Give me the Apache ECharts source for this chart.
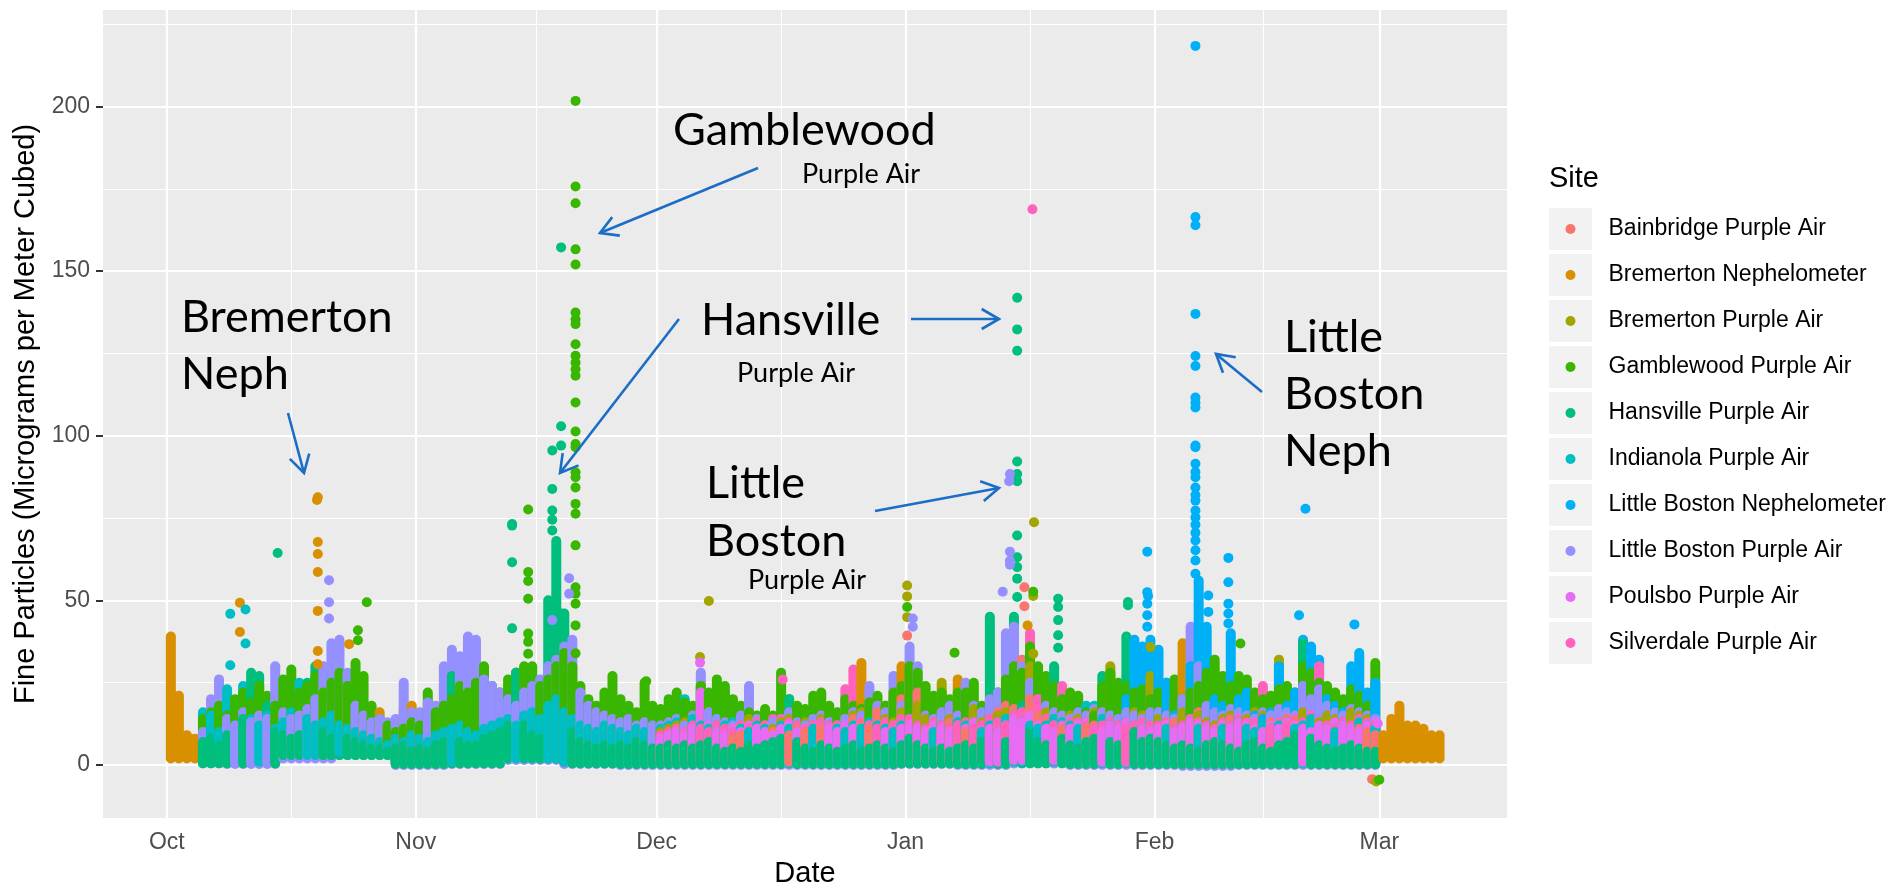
<!DOCTYPE html>
<html>
<head>
<meta charset="utf-8">
<title>Fine Particles by Site</title>
<script src="https://cdn.jsdelivr.net/npm/echarts@6.0.0/dist/echarts.min.js"></script>
<style>
html, body { margin: 0; padding: 0; background: #ffffff; }
#chart { width: 1895px; height: 890px; }
</style>
</head>
<body>
<div id="chart"></div>
<script>
// ---------------- categories, ticks ----------------
const sites = ['Bainbridge Purple Air', 'Bremerton Nephelometer', 'Bremerton Purple Air',
  'Gamblewood Purple Air', 'Hansville Purple Air', 'Indianola Purple Air',
  'Little Boston Nephelometer', 'Little Boston Purple Air', 'Poulsbo Purple Air', 'Silverdale Purple Air'];
const firstDay = '2018-10-01';
const monthTicks = ['2018-10-01', '2018-11-01', '2018-12-01', '2019-01-01', '2019-02-01', '2019-03-01'];
const monthLabels = ['Oct', 'Nov', 'Dec', 'Jan', 'Feb', 'Mar'];
const minorTickDays = [15.5, 46, 76.5, 107.5, 136.5];
const yTicks = [0, 50, 100, 150, 200];
const yMinorTicks = [25, 75, 125, 175, 225];
const xRangeDays = [-7.95, 166.9];
const yRange = [-16.1, 229.3];

// ---------------- daily highs (index 0 = start day; day 0 = Oct 1) ----------------
const startBremertonNeph = 0;
const hiBremertonNeph = [
  39,21,9,8,10, 9,10,12,14,17, 13,12,14,12,11, 13,15,18,26,22, 18,16,20,15,13, 14,16,12,10,17, 18,
  12,8,7,9,10, 12,14,16,13,15, 18,20,28,29,22, 12,15,20,22,18, 12,10,8,9,11, 10,8,9,10,8,
  10,9,8,11,12, 10,9,8,10,12, 11,9,8,10,12, 14,12,10,9,11, 13,12,10,11,14, 31,20,16,18,20, 30,
  24,16,12,10,13, 15,26,14,11,9, 10,12,14,16,18, 22,15,12,10,12, 10,9,11,13,12, 10,14,12,10,11, 12,
  10,12,20,37,38, 30,18,12,14,16, 12,10,9,11,13, 12,10,11,13,12, 10,14,12,11,14, 20,12,10,
  9,14,18,12,12,11,9,9
];
const loBremertonNeph = [2,2,4,5,2, 2,4,2,2,2, 2,2,2,2,2, 3,2,2,2,2, 2,2,2];
const peaksBremertonNeph = [[9.1,49.3],[9.1,40.4],[18.8,81.3],[18.7,80.5],[18.8,67.7],[18.8,64.1],
  [18.8,58.6],[18.8,46.8],[18.8,34.6],[18.8,30.6],[22.7,36.7],[107.2,42.4]];

const startGamblewood = 4;
const hiGamblewood = [
  14,16,18,15,20, 22,19,24,21,18, 26,29,22,24,27, 22,25,28,24,31, 27,18,14,12,10, 11,13,
  12,22,16,18,20, 24,22,25,30,24, 22,26,28,30,30, 24,26,30,34,30, 24,20,18,22,27, 20,18,16,25,18,
  17,20,22,19,18, 24,22,26,24,20, 18,16,15,17,15, 28,20,18,17,21, 22,18,16,20,18, 17,19,21,18,22, 24,
  30,28,24,21,22, 20,22,22,25,18, 20,22,26,30,28, 36,30,27,24,20, 22,21,16,15,24, 28,25,24,22,23, 20,
  22,25,26,20,22, 24,28,32,27,24, 27,26,22,20,21, 23,24,22,30,28, 25,24,22,20,23, 21,18,31
];
const loGamblewood = [1,1,3,4,1, 1,2,1,1,1, 1,1,1,1,1, 2,1,1,1,1, 1,1];
const peaksGamblewood = [[23.8,40.9],[23.8,37.9],[24.9,49.4],[45.0,77.6],[45.0,58.6],[45.0,55.9],[45.0,50.5],
  [45.0,39.9],[45.0,37.4],[45.0,33.8],[50.9,201.7],[50.9,175.7],[50.9,170.6],[50.9,156.6],[50.9,152.0],
  [50.9,137.4],[50.9,135.4],[50.9,133.9],[50.9,127.8],[50.9,124.3],[50.9,122.2],[50.9,120.2],[50.9,118.2],
  [50.9,110.1],[50.9,101.3],[50.9,97.5],[50.9,96.5],[50.9,88.9],[50.9,87.4],[50.9,84.3],[50.9,79.3],
  [50.9,76.3],[50.9,66.7],[50.9,54.0],[50.9,52.0],[50.9,49.0],[50.9,42.4],[50.9,33.9],[59.7,25.4],
  [92.2,48.0],[98.1,34.1],[107.9,52.6],[133.7,36.9],[151.0,-4.5]];

const startHansville = 4;
const hiHansville = [
  7,8,6,9,12, 14,28,27,18,10, 9,8,9,25,30, 10,8,12,8,7, 6,5,5,4,5, 6,4,
  5,4,6,7,27, 7,6,6,8,9, 10,12,28,12,9, 8,50,68,46,10, 7,6,5,6,5, 6,5,7,6,5,
  5,6,5,6,5, 6,7,5,4,5, 4,6,5,6,7, 8,20,7,5,4, 6,5,4,5,6, 4,5,6,5,4, 6,
  8,6,5,4,5, 4,5,6,5,7, 45,10,7,45,18, 10,7,6,30,8, 6,5,7,8,27, 7,6,39,10,7, 8,
  7,6,5,6,5, 4,6,7,6,5, 4,6,7,5,4, 6,7,9,37,8, 6,5,4,5,6, 5,4,4
];
const loHansville = [0.5,0.5,3,3,0.3, 0.5,2,0.5,0.3,0.3, 0.3,0.3,0.3,0.5,0.3, 0.5,0.3,0.3,0.2,0.2, 0.2,0.2];
const peaksHansville = [[13.8,64.4],[43.0,73.2],[43.0,72.7],[43.0,61.6],[43.0,41.5],[48.0,95.5],[48.0,83.8],
  [48.0,77.3],[48.0,74.5],[48.0,71.2],[49.1,157.2],[49.1,102.9],[49.1,97.0],[49.1,46.0],[105.9,141.9],
  [105.9,132.3],[105.9,125.8],[105.9,92.2],[105.9,88.4],[105.9,86.2],[105.9,69.7],[105.9,63.1],[105.9,60.1],
  [105.9,56.6],[105.9,51.0],[111.0,50.5],[111.0,48.0],[111.0,44.0],[111.0,39.4],[111.0,35.6],[119.7,49.5],[119.7,48.5]];

const startIndianola = 4;
const hiIndianola = [
  16,15,10,23,12, 24,14,12,15,11, 13,16,25,14,12, 13,15,12,11,10, 9,8,7,6,8, 7,9,
  8,7,9,10,11, 12,10,9,11,12, 13,14,12,15,16, 14,18,20,16,14, 12,11,10,12,11, 10,9,11,10,12,
  11,12,13,20,14, 12,11,10,12,13, 11,10,12,11,13, 12,11,10,12,11, 13,12,11,10,12, 11,13,12,11,10, 12,
  14,12,11,10,12, 11,13,12,11,10, 12,13,14,15,13, 12,11,12,14,13, 12,11,18,18,14, 12,11,13,12,11, 12,
  12,11,10,12,13, 11,12,10,11,12, 13,11,10,12,11, 12,13,11,12,14, 12,11,10,12,11, 13,12,11
];
const loIndianola = [1,1,3,4,0.5, 1,2,1,0.5,0.5, 0.5,0.5,0.5,1,0.5, 1,0.5,0.5,0.5,0.5, 0.5,0.5];
const peaksIndianola = [[7.9,45.9],[7.9,30.3],[9.8,47.2],[9.8,36.9]];

const startLittleBostonPA = 4;
const hiLittleBostonPA = [
  10,20,26,14,12, 16,13,15,14,30, 16,14,15,17,20, 30,37,38,28,18, 15,13,14,13,14, 25,16,
  16,19,18,30,35, 33,39,38,26,24, 22,20,18,22,24, 26,30,32,36,38, 22,18,16,15,14, 13,14,12,13,12,
  12,13,14,12,15, 28,16,14,13,12, 15,24,14,12,13, 14,16,13,12,14, 15,13,12,14,16, 15,24,18,16,27, 18,
  36,30,15,14,16, 18,15,25,18,16, 20,22,40,42,30, 25,20,18,16,15, 14,16,15,17,16, 15,14,16,15,14, 16,
  16,15,14,20,42, 30,18,16,15,17, 16,15,14,16,15, 17,16,15,24,20, 23,18,16,15,17, 16,15,14
];
const loLittleBostonPA = [0.5,0.3,2,3,0, 0.3,1.5,0.3,0,0, 0,0,0,0.3,0, 0.5,0,0,-0.3,0, 0,0];
const peaksLittleBostonPA = [[20.2,56.1],[20.2,49.4],[20.2,44.5],[48.0,44.0],[50.1,56.7],[50.1,52.0],
  [92.9,44.5],[92.9,42.0],[104.1,52.6],[105.0,88.4],[104.9,86.2],[105.0,64.8],[105.0,62.0],[105.0,60.8]];

const startLittleBostonNeph = 119;
const hiLittleBostonNeph = [20,38,36,38,35, 25,15,20,30,56, 42,20,18,40,20, 22,15,14,16,30,
  18,22,38,36,32, 20,18,16,30,34, 22,25];
const loLittleBostonNeph = [4,3,3,3,4];
const peaksLittleBostonNeph = [[122.1,64.8],[122.1,52.5],[122.2,51.3],[122.1,49.0],[122.1,45.5],[122.1,42.0],
  [128.1,218.4],[128.1,166.4],[128.1,163.9],[128.1,137.0],[128.1,124.2],[128.1,121.2],[128.1,111.6],
  [128.1,110.0],[128.1,108.6],[128.1,97.0],[128.1,96.5],[128.1,91.5],[128.1,89.0],[128.1,87.4],[128.1,84.3],
  [128.1,82.0],[128.1,80.3],[128.1,77.3],[128.1,75.2],[128.1,73.0],[128.1,70.5],[128.1,68.2],[128.1,65.2],
  [128.1,62.1],[128.1,58.1],[129.7,51.5],[129.7,46.5],[132.2,62.9],[132.2,55.5],[132.2,49.0],[132.2,46.0],
  [132.2,43.0],[141.8,77.8],[141.0,45.5],[147.9,42.7]];

const startBainbridge = 70;
const hiBainbridge = [
  8,9,10,11,12, 10,12,9,11,10, 12,11,13,12,10, 14,12,11,16,13, 12,20,
  30,22,14,12,11, 13,12,10,11,12, 14,16,18,17,32, 20,15,13,12,11, 12,13,11,12,14, 13,12,11,12,13, 12,
  12,11,13,12,14, 16,13,12,11,14, 13,12,14,15,13, 12,14,13,12,14, 13,12,11,13,12, 11,10,9
];
const loBainbridge = [1,1,1,1,1, 1.5,1,1,0.5,0.5, 0.5,0.5];
const peaksBainbridge = [[92.2,39.3],[106.8,54.0],[106.8,48.2],[150.1,-4.3]];

const startBremertonPA = 61;
const hiBremertonPA = [
  10,11,12,13,14, 24,16,12,11,13, 12,14,13,12,11, 13,14,12,13,12, 14,13,12,14,15, 16,19,18,14,13, 16,
  30,18,14,13,25, 14,13,12,17,13, 14,15,16,14,18, 30,20,16,14,13, 15,14,13,16,16, 30,14,13,16,15, 27,
  14,13,15,16,14, 15,13,12,14,15, 13,14,16,15,15, 32,13,15,16,14, 13,15,14,13,16, 15,14,12
];
const loBremertonPA = [1,1,1,1,1, 1,1,1.5,1,1, 1,1,1,1];
const peaksBremertonPA = [[66.4,32.8],[67.5,49.8],[92.2,54.5],[92.2,51.2],[92.2,44.9],[108.0,73.7],
  [107.9,51.3],[107.9,33.8],[122.5,35.8],[150.6,-5.0]];

const startPoulsbo = 61;
const hiPoulsbo = [
  8,9,10,9,11, 22,12,10,9,11, 10,12,11,10,9, 11,12,10,11,12, 13,11,10,12,11, 13,12,11,10,12, 11,
  12,11,10,12,11, 10,12,11,13,12, 11,10,12,14,13, 15,12,11,10,12, 11,12,13,11,10, 12,11,13,12,11, 10,
  11,12,10,11,13, 12,11,10,12,11, 13,12,11,10,12, 11,13,12,11,10, 12,11,13,12,11, 10,12,13
];
const loPoulsbo = [1.5,1.5,1,1,1, 1.5,1,1.5,1,1, 1,1,1,1];
const peaksPoulsbo = [[66.4,31.1],[150.8,12.6]];

const startSilverdale = 61;
const hiSilverdale = [
  9,10,11,10,12, 11,10,12,11,10, 12,11,13,12,14, 14,13,12,11,12, 13,12,12,23,29, 13,12,11,13,12, 14,
  14,12,11,13,12, 11,12,13,11,12, 14,13,12,15,16, 40,20,14,12,24, 13,13,12,11,12, 13,12,11,12,13, 12,
  12,13,11,12,14, 13,12,11,13,12, 14,13,13,24,11, 13,12,14,13,15, 30,12,11,13,12, 14,13,12
];
const loSilverdale = [1,1,1,1,1, 1,1,1.5,1,1, 1,1,1,1];
const peaksSilverdale = [[76.7,26.0],[107.8,168.8]];

// ---------------- styles ----------------
const colors = ['#F8766D', '#D89000', '#A3A500', '#39B600', '#00BF7D', '#00BFC4', '#00B0F6', '#9590FF', '#E76BF3', '#FF62BC'];
const DOT = 10;
const ARROW = '#1C6DC6';
const FONT = 'Liberation Sans';
const NOTE_FONT = 'Lato';
const BACK_LAYER = [1]; // Bremerton Nephelometer readings sit underneath the purple-air clouds

// ---------------- build ----------------
const DAY_MS = 86400000;
function parseDay(s) { const p = s.split('-').map(Number); return new Date(p[0], p[1] - 1, p[2]).getTime(); }
const day0 = parseDay(firstDay);
const toTime = d => day0 + d * DAY_MS;
const monthTs = monthTicks.map(parseDay);

const siteTable = [
  { start: startBainbridge, hi: hiBainbridge, lo: loBainbridge, peaks: peaksBainbridge },
  { start: startBremertonNeph, hi: hiBremertonNeph, lo: loBremertonNeph, peaks: peaksBremertonNeph },
  { start: startBremertonPA, hi: hiBremertonPA, lo: loBremertonPA, peaks: peaksBremertonPA },
  { start: startGamblewood, hi: hiGamblewood, lo: loGamblewood, peaks: peaksGamblewood },
  { start: startHansville, hi: hiHansville, lo: loHansville, peaks: peaksHansville },
  { start: startIndianola, hi: hiIndianola, lo: loIndianola, peaks: peaksIndianola },
  { start: startLittleBostonNeph, hi: hiLittleBostonNeph, lo: loLittleBostonNeph, peaks: peaksLittleBostonNeph },
  { start: startLittleBostonPA, hi: hiLittleBostonPA, lo: loLittleBostonPA, peaks: peaksLittleBostonPA },
  { start: startPoulsbo, hi: hiPoulsbo, lo: loPoulsbo, peaks: peaksPoulsbo },
  { start: startSilverdale, hi: hiSilverdale, lo: loSilverdale, peaks: peaksSilverdale }
];

// daily reading ranges of every site; on each day the taller ranges are drawn first,
// so every site's upper readings stay visible above the shorter ones (dense overplotting)
function buildStripes() {
  const perDay = {};
  siteTable.forEach((s, k) => {
    const w0 = Math.floor(s.start / 7);
    s.hi.forEach((h, i) => {
      if (h == null) return;
      const d = s.start + i;
      const lo = s.lo[Math.floor(d / 7) - w0];
      (perDay[d] = perDay[d] || []).push([toTime(d + 0.5), Math.min(lo, h), h, k]);
    });
  });
  const layer = k => (BACK_LAYER.indexOf(k) >= 0 ? 0 : 1);
  const out = [];
  Object.keys(perDay).map(Number).sort((a, b) => a - b).forEach(d => {
    perDay[d].sort((a, b) => (layer(a[3]) - layer(b[3])) || (b[2] - a[2]) || (a[3] - b[3]))
      .forEach(r => out.push(r));
  });
  return out;
}

function renderStripe(params, api) {
  const x = api.value(0);
  const top = api.coord([x, api.value(2)]);
  const bot = api.coord([x, api.value(1)]);
  const r = DOT / 2;
  return {
    type: 'rect',
    shape: { x: top[0] - r, y: top[1] - r, width: DOT, height: Math.max(bot[1] - top[1], 0) + DOT, r: r },
    style: { fill: colors[api.value(3)] }
  };
}

const series = [];
// panel grid lines, drawn as mark lines under the data
const gridLines = [];
monthTs.forEach(v => gridLines.push({ xAxis: v, lineStyle: { width: 2.2 } }));
minorTickDays.forEach(d => gridLines.push({ xAxis: toTime(d), lineStyle: { width: 1.1 } }));
yTicks.forEach(v => gridLines.push({ yAxis: v, lineStyle: { width: 2.2 } }));
yMinorTicks.forEach(v => gridLines.push({ yAxis: v, lineStyle: { width: 1.1 } }));
series.push({
  type: 'scatter', name: 'panel-grid', data: [], silent: true, z: 1,
  markLine: {
    silent: true, z: 1, symbol: ['none', 'none'], label: { show: false }, animation: false,
    lineStyle: { color: '#FFFFFF', type: 'solid' }, emphasis: { disabled: true },
    data: gridLines
  }
});
series.push({
  type: 'custom', name: 'readings', renderItem: renderStripe, z: 2, silent: true,
  dimensions: ['time', 'low', 'high', 'site'],
  encode: { x: 0, y: [1, 2] },
  data: buildStripes()
});
siteTable.forEach((s, k) => {
  series.push({
    type: 'scatter', name: sites[k], z: 3, symbolSize: DOT, symbol: 'circle',
    itemStyle: { color: colors[k], opacity: 1 }, silent: true,
    data: s.peaks.map(p => [toTime(p[0]), p[1]])
  });
});

function arrow(p1, p2) {
  const ang = Math.atan2(p1[1] - p2[1], p1[0] - p2[0]);
  const L = 20, a = Math.PI / 6;
  const h1 = [p2[0] + L * Math.cos(ang + a), p2[1] + L * Math.sin(ang + a)];
  const h2 = [p2[0] + L * Math.cos(ang - a), p2[1] + L * Math.sin(ang - a)];
  const st = { stroke: ARROW, lineWidth: 2.6, fill: null };
  return [
    { type: 'polyline', z: 20, silent: true, shape: { points: [p1, p2] }, style: st },
    { type: 'polyline', z: 20, silent: true, shape: { points: [h1, p2, h2] }, style: st }
  ];
}
function note(text, x, y, size) {
  return { type: 'text', x: x, y: y, z: 20, silent: true,
    style: { text: text, fontSize: size, fontFamily: NOTE_FONT, fill: '#000000', align: 'left', verticalAlign: 'middle' } };
}

const LEG_TOP = 208;
const graphics = [];
graphics.push({ type: 'text', x: 1549, y: LEG_TOP - 29, silent: true,
  style: { text: 'Site', fontSize: 29, fontFamily: FONT, fill: '#000000', align: 'left', verticalAlign: 'middle' } });
sites.forEach((s, i) => graphics.push({ type: 'rect', z: -1, silent: true,
  shape: { x: 1549, y: LEG_TOP + i * 46, width: 43, height: 42 }, style: { fill: '#F2F2F2' } }));
// annotations
graphics.push(note('Bremerton', 181, 317, 45), note('Neph', 181, 374, 45));
graphics.push(note('Gamblewood', 673, 130, 45), note('Purple Air', 802, 174, 27));
graphics.push(note('Hansville', 701, 320, 45), note('Purple Air', 737, 373, 27));
graphics.push(note('Little', 706, 483, 45), note('Boston', 706, 541, 45), note('Purple Air', 748, 580, 27));
graphics.push(note('Little', 1284, 337, 45), note('Boston', 1284, 394, 45), note('Neph', 1284, 451, 45));
[[[288, 413], [304, 473]], [[758, 168], [600, 233]], [[679, 319], [560, 473]], [[911, 319], [999, 319]],
 [[875, 511], [999, 488]], [[1262, 392], [1216, 354]]].forEach(a => graphics.push(...arrow(a[0], a[1])));

const chart = echarts.init(document.getElementById('chart'), null, { renderer: 'canvas' });
chart.setOption({
  animation: false,
  backgroundColor: '#FFFFFF',
  textStyle: { fontFamily: FONT },
  grid: { left: 103, right: 388, top: 10, bottom: 72, show: true, backgroundColor: '#EBEBEB', borderWidth: 0, containLabel: false, outerBoundsMode: 'none' },
  xAxis: {
    type: 'value', min: toTime(xRangeDays[0]), max: toTime(xRangeDays[1]),
    name: 'Date', nameLocation: 'middle', nameGap: 41,
    nameTextStyle: { fontSize: 29, color: '#000000', fontFamily: FONT },
    axisLine: { show: false },
    axisTick: { show: true, customValues: monthTs, length: 7, lineStyle: { color: '#333333', width: 2 } },
    axisLabel: { customValues: monthTs, margin: 13, fontSize: 23, color: '#4D4D4D', fontFamily: FONT,
      formatter: v => { let b = 0; monthTs.forEach((m, i) => { if (Math.abs(m - v) < Math.abs(monthTs[b] - v)) b = i; }); return monthLabels[b]; } },
    splitLine: { show: false }, minorSplitLine: { show: false }
  },
  yAxis: {
    type: 'value', min: yRange[0], max: yRange[1],
    name: 'Fine Particles (Micrograms per Meter Cubed)', nameLocation: 'middle', nameGap: 60,
    nameTextStyle: { fontSize: 29, color: '#000000', fontFamily: FONT },
    axisLine: { show: false },
    axisTick: { show: true, customValues: yTicks, length: 7, lineStyle: { color: '#333333', width: 2 } },
    axisLabel: { customValues: yTicks, margin: 13, fontSize: 23, color: '#4D4D4D', fontFamily: FONT },
    splitLine: { show: false }
  },
  legend: {
    data: sites, orient: 'vertical', left: 1565.5, top: LEG_TOP, padding: 0,
    icon: 'circle', itemWidth: 10, itemHeight: 10, itemGap: 4, selectedMode: false,
    textStyle: { fontSize: 23, color: '#000000', fontFamily: FONT, lineHeight: 42, padding: [0, 0, 0, 28] }
  },
  graphic: { elements: graphics },
  series: series
});
</script>
</body>
</html>
